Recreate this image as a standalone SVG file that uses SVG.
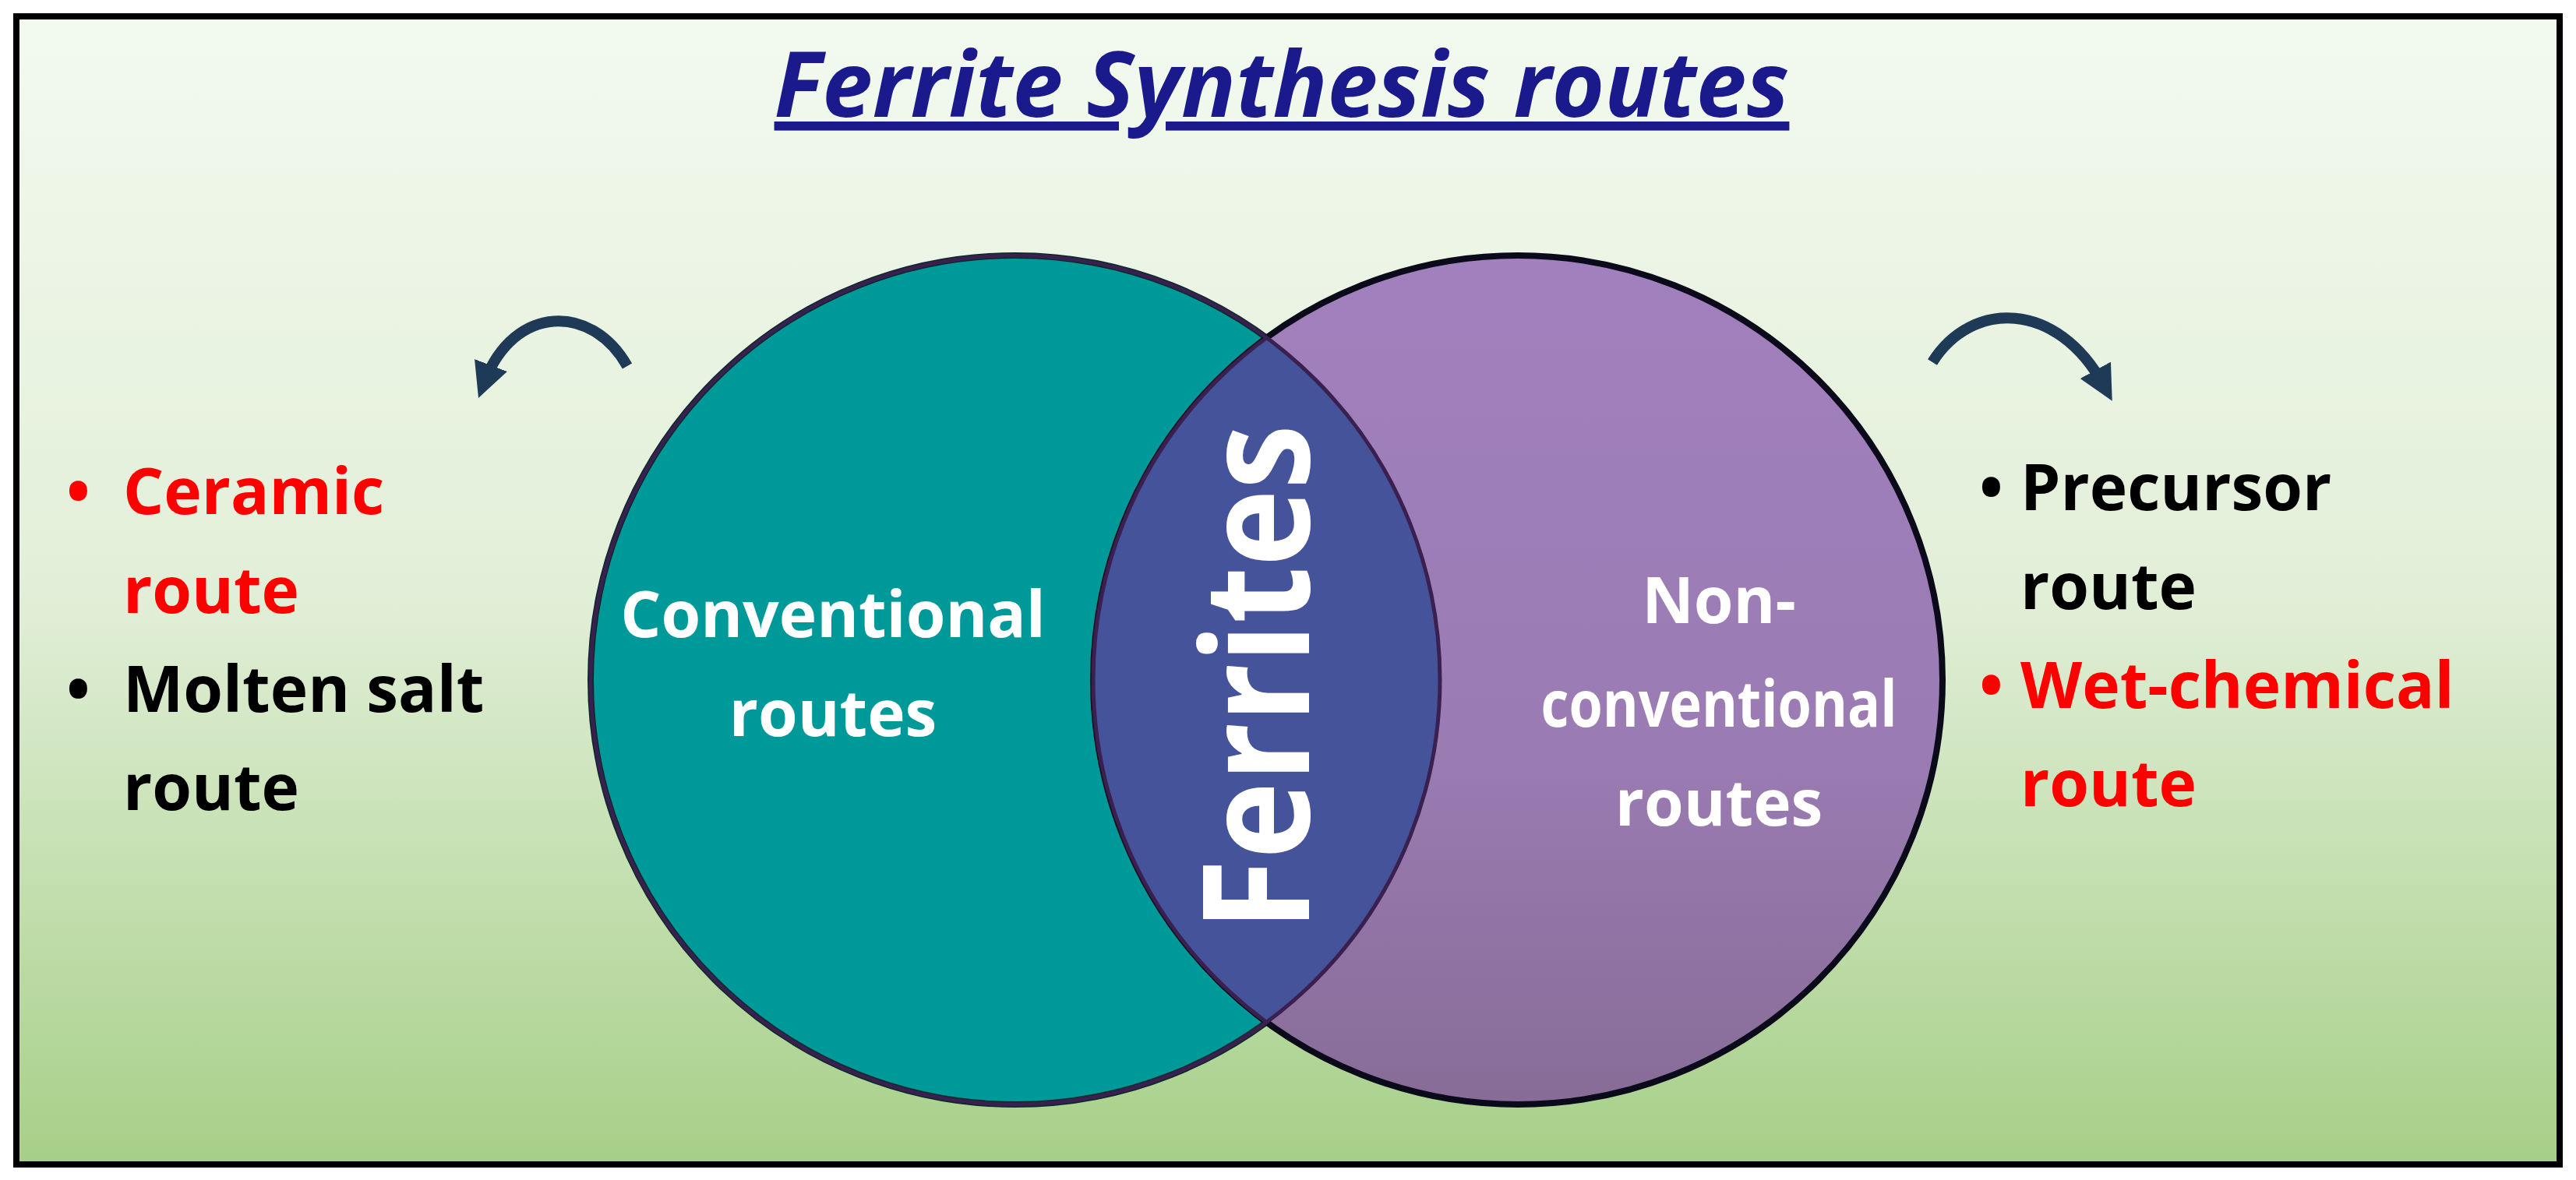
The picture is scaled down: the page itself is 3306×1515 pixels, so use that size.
<svg xmlns="http://www.w3.org/2000/svg" width="3306" height="1515" viewBox="0 0 3306 1515">
<style>
.w{font-family:"Open Sans","Liberation Sans",sans-serif;font-weight:bold;fill:#fff;text-anchor:middle;font-size:82px}
.b{font-family:"Open Sans","Liberation Sans",sans-serif;font-weight:bold;font-size:82px;fill:#000}
.r{fill:#ff0000}
</style>
<defs>
<linearGradient id="bg" x1="0" y1="0" x2="0" y2="1"><stop offset="0" stop-color="#f3f9ef"/><stop offset="0.5" stop-color="#e2efd8"/><stop offset="1" stop-color="#a6cf88"/></linearGradient>
<linearGradient id="pu" x1="0" y1="0" x2="0" y2="1"><stop offset="0" stop-color="#a280bd"/><stop offset="0.6" stop-color="#9a7bb2"/><stop offset="1" stop-color="#876c97"/></linearGradient>
<marker id="ah" viewBox="0 0 10 10" refX="5" refY="5" markerWidth="3.2" markerHeight="3.2" orient="auto"><path d="M0,0L10,5L0,10Z" fill="#1f3a56"/></marker>
<clipPath id="lc"><circle cx="1303" cy="873" r="545"/></clipPath>
</defs>
<rect x="21" y="21" width="3264" height="1474" fill="url(#bg)" stroke="#000" stroke-width="8"/>
<g id="title"><text x="1645" y="150" font-family="'Open Sans','Liberation Sans',sans-serif" font-weight="bold" font-style="italic" font-size="116" fill="#1a1a8c" text-anchor="middle" text-decoration="underline">Ferrite Synthesis routes</text></g>
<g id="conventional"><circle cx="1303" cy="873" r="545" fill="#009999" stroke="#0a2a2a" stroke-width="8"/>
<text class="w" x="1069" y="818">Conventional</text><text class="w" x="1069" y="945">routes</text></g>
<g id="nonconventional"><circle cx="1948" cy="873" r="545" fill="url(#pu)" stroke="#0a0a1a" stroke-width="8"/>
<text class="w" x="2206" y="800">Non-</text><text class="w" x="2206" y="933" textLength="457" lengthAdjust="spacingAndGlyphs">conventional</text><text class="w" x="2206" y="1060">routes</text></g>
<g id="ferrites"><circle cx="1948" cy="873" r="545" fill="#44539a" clip-path="url(#lc)"/>
<circle cx="1948" cy="873" r="545" fill="none" stroke="#3a2050" stroke-width="5" clip-path="url(#lc)"/>
<circle cx="1303" cy="873" r="545" fill="none" stroke="#3a2050" stroke-width="5"/>
<text transform="translate(1680,870) rotate(-90)" x="0" y="0" text-anchor="middle" font-family="'Open Sans','Liberation Sans',sans-serif" font-weight="bold" font-size="190" fill="#fff" textLength="650" lengthAdjust="spacingAndGlyphs">Ferrites</text></g>
<g id="left-list">
<text class="b r" x="85" y="660">•</text><text class="b r" x="158" y="660">Ceramic</text>
<text class="b r" x="158" y="787">route</text>
<text class="b" x="85" y="914">•</text><text class="b" x="158" y="914">Molten salt</text>
<text class="b" x="158" y="1040">route</text></g>
<g id="right-list">
<text class="b" x="2540" y="655">•</text><text class="b" x="2593" y="655">Precursor</text>
<text class="b" x="2593" y="782">route</text>
<text class="b r" x="2540" y="909">•</text><text class="b r" x="2593" y="909">Wet-chemical</text>
<text class="b r" x="2593" y="1035">route</text></g>
<g id="connectors" fill="none" stroke="#1f3a56" stroke-width="14">
<path d="M805,470 C760,390 660,390 622,490" marker-end="url(#ah)"/>
<path d="M2480,465 C2530,385 2640,385 2700,495" marker-end="url(#ah)"/>
</g>
</svg>
